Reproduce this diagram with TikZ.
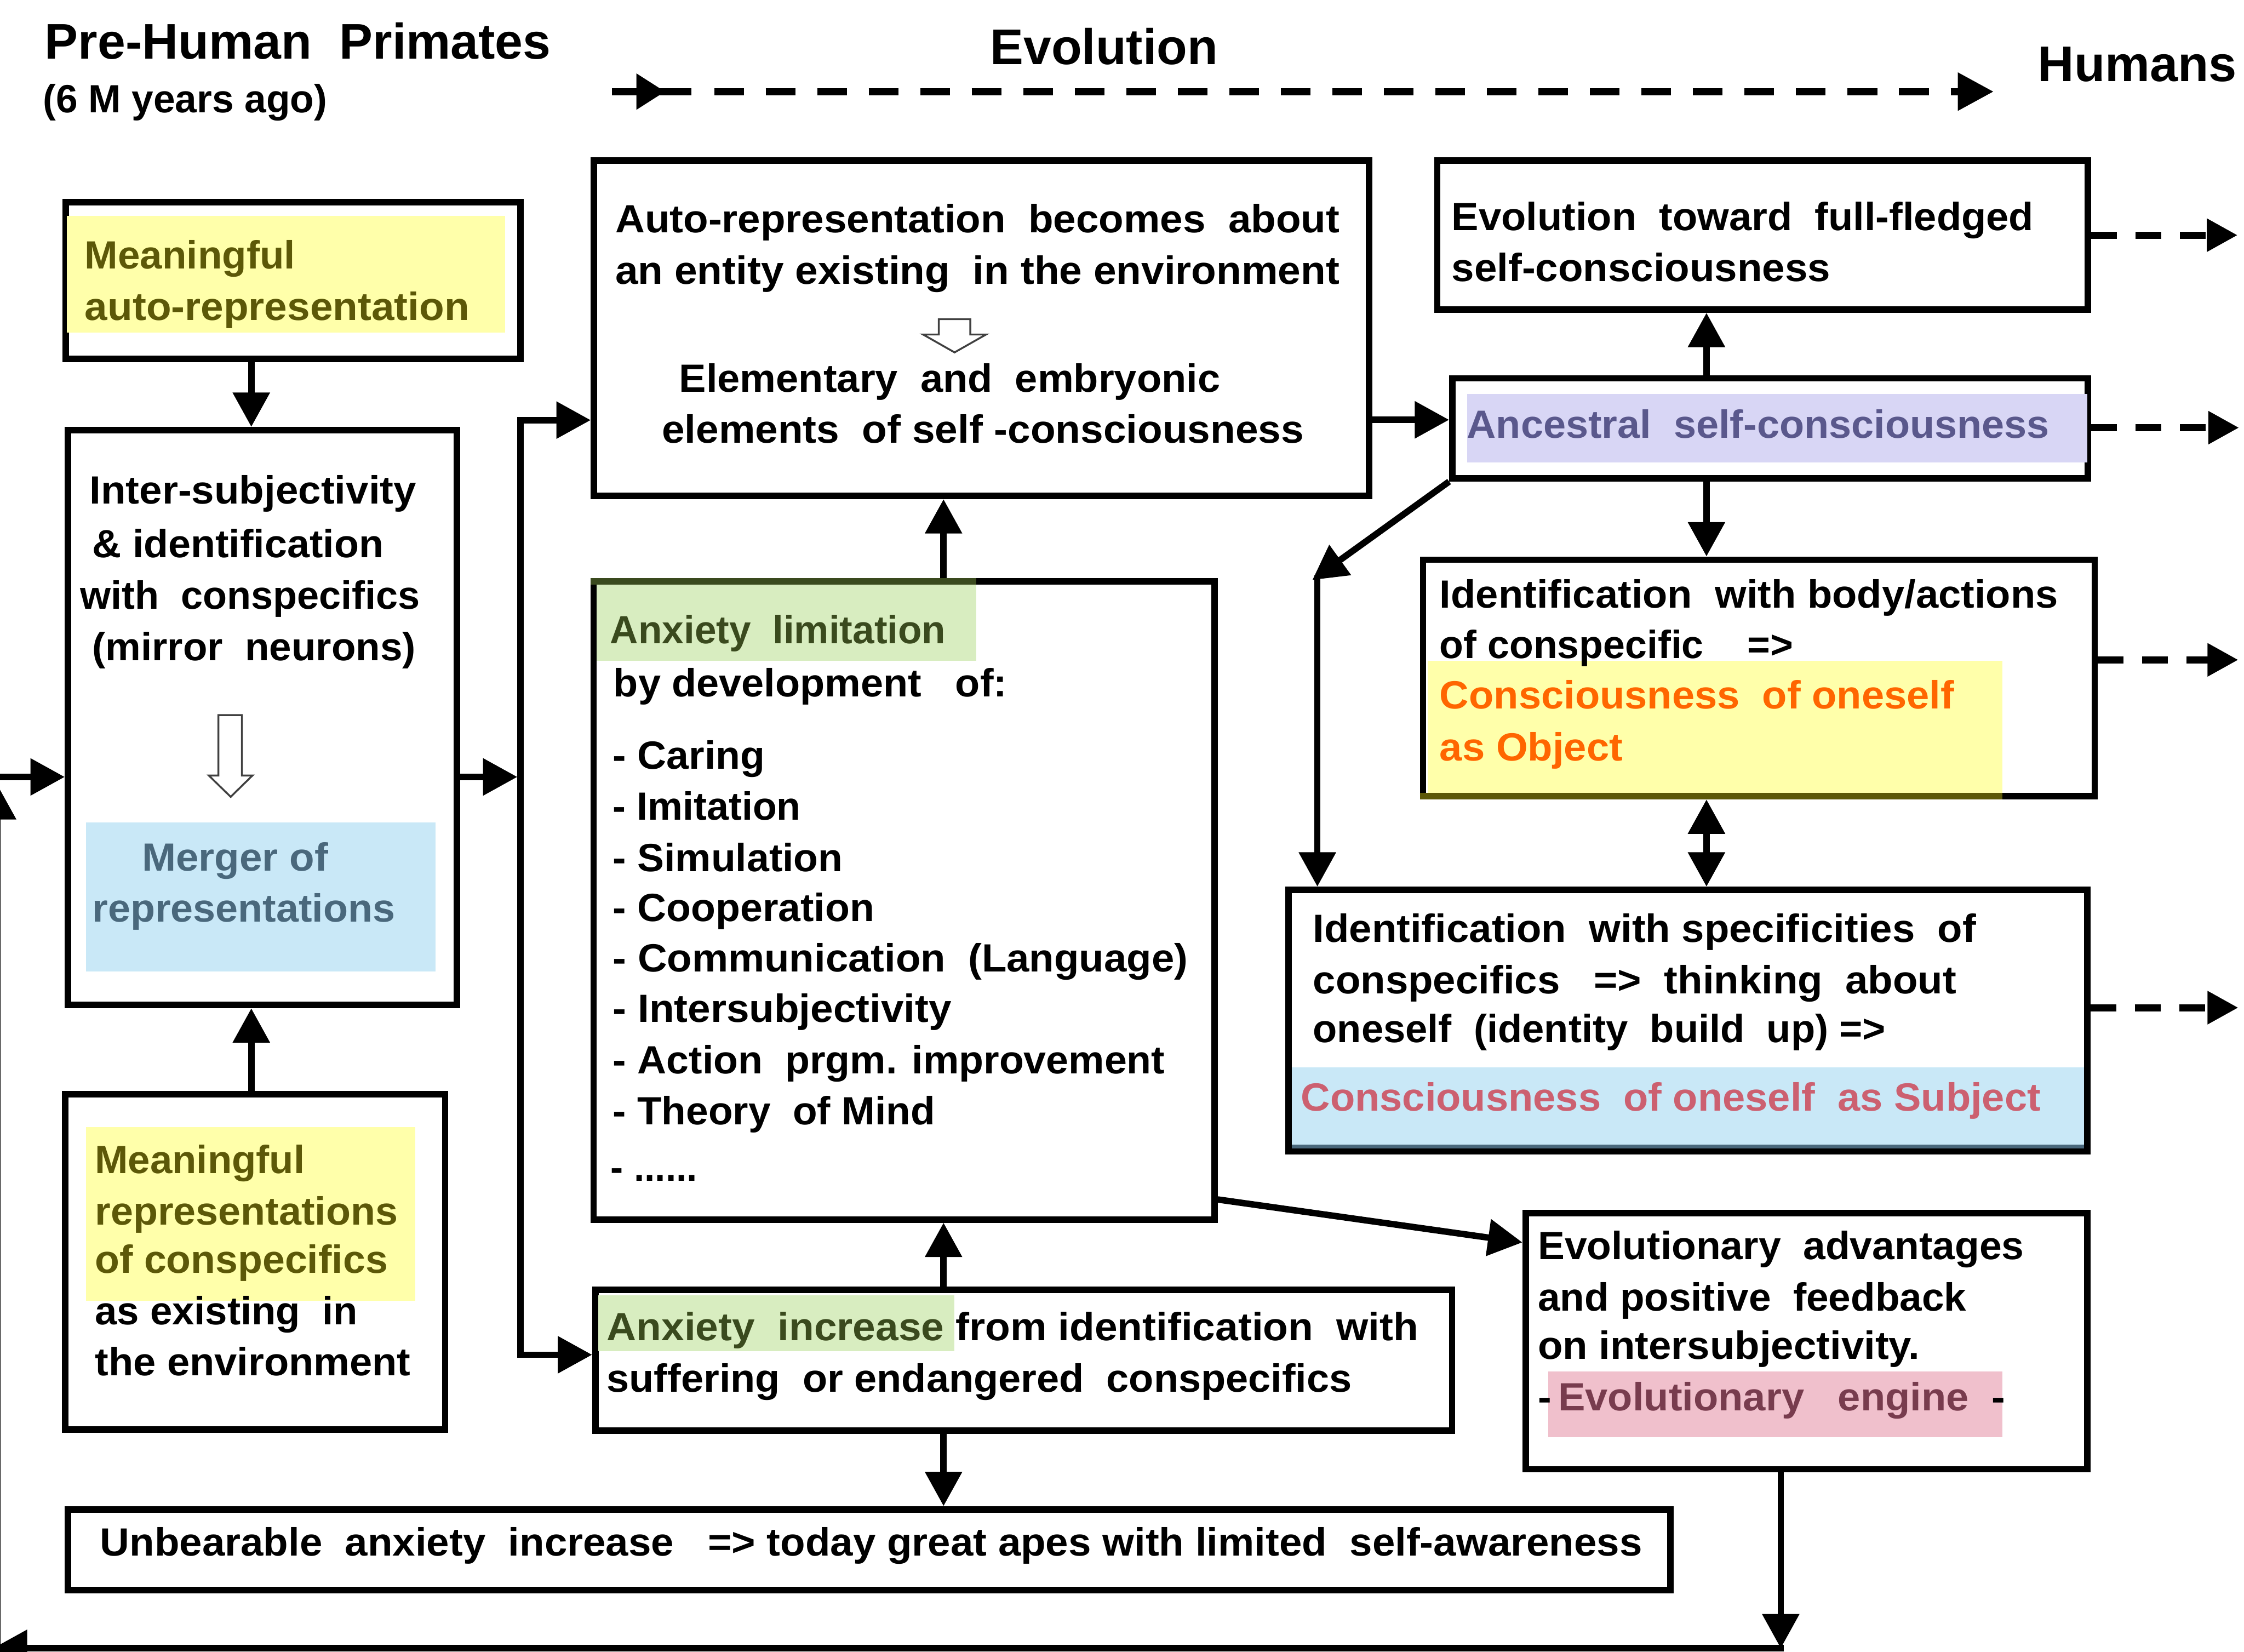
\documentclass[tikz,border=0pt]{standalone}
\usepackage{fontspec}
\setmainfont{Liberation Sans}
\usepackage{graphicx}
\usetikzlibrary{arrows.meta}
\newlength\fitnat
\newcommand\fitto[2]{\settowidth{\fitnat}{#2}\pgfmathsetmacro\fitratio{#1/\fitnat}\scalebox{\fitratio}[1]{#2}}
\definecolor{hlyellow}{RGB}{255,255,170}
\definecolor{cOlive}{RGB}{92,88,8}
\definecolor{hlblue}{RGB}{201,232,247}
\definecolor{cSlate}{RGB}{74,104,124}
\definecolor{hlgreen}{RGB}{216,237,192}
\definecolor{dkgreen}{RGB}{58,74,30}
\definecolor{hlpurple}{RGB}{216,214,245}
\definecolor{purptext}{RGB}{90,88,140}
\definecolor{orangetext}{RGB}{255,102,0}
\definecolor{pinktext}{RGB}{204,96,112}
\definecolor{hlpink}{RGB}{240,192,204}
\definecolor{cMaroon}{RGB}{120,60,78}
\begin{document}
\begin{tikzpicture}[x=1pt,y=-1pt,
  box/.style={draw, line width=4.5pt, inner sep=0pt},
  conn/.style={line width=4.5pt},
  arr/.style={conn, -{Triangle[length=24pt,width=25pt]}},
  dblarr/.style={conn, {Triangle[length=24pt,width=25pt]}-{Triangle[length=24pt,width=25pt]}},
  darr/.style={line width=5pt, dash pattern=on 18pt off 13pt, -{Triangle[length=21.5pt,width=22pt]}},
  hollow/.style={draw=black!75, line width=1.3pt, fill=white, line join=miter},
  txt/.style={anchor=base west, inner sep=0pt, outer sep=0pt, font=\fontsize{27.5}{33}\selectfont\bfseries},
  ttl/.style={txt, font=\fontsize{35}{42}\selectfont\bfseries}]
\useasboundingbox (0,0) rectangle (1568,1154);
\fill[white] (0,0) rectangle (1568,1154);

% ---------- boxes ----------
\node[box, minimum width=317.9pt, minimum height=109.4pt] (b1) at (204.75,195.9) {};
\node[box, minimum width=271.7pt, minimum height=401.7pt] (b2) at (183.35,501.35) {};
\node[box, minimum width=265.4pt, minimum height=234pt] (b3) at (178.3,881.6) {};
\node[box, minimum width=541.5pt, minimum height=234.2pt] (b4) at (685.75,229.4) {};
\node[box, minimum width=433.8pt, minimum height=445.7pt] (b5) at (631.7,629.15) {};
\node[box, minimum width=598.6pt, minimum height=98.5pt] (b6) at (715.3,950.25) {};
\node[box, minimum width=1119.8pt, minimum height=56.3pt] (b7) at (607.3,1082.65) {};
\node[box, minimum width=454.7pt, minimum height=104pt] (b8) at (1231.65,164.3) {};
\node[box, minimum width=444.2pt, minimum height=69.9pt] (b9) at (1236.9,299.25) {};
\node[box, minimum width=469.4pt, minimum height=165.3pt] (b10) at (1229,473.65) {};
\node[box, minimum width=557.9pt, minimum height=182.8pt] (b11) at (1179.45,713.1) {};
\node[box, minimum width=392.4pt, minimum height=179pt] (b12) at (1262.2,937) {};

% ---------- highlights ----------
\fill[hlyellow] (46.8,151) rectangle (353,232.4);
\fill[hlblue] (60,574.5) rectangle (304.5,678.8);
\fill[hlyellow] (60,787.5) rectangle (290,908.8);
\fill[hlgreen] (417,408.6) rectangle (682,461.8);
\draw[line width=4.5pt, dkgreen] (412.55,406.3) -- (682,406.3);
\fill[hlgreen] (418.2,905) rectangle (667,944);
\fill[hlpurple] (1025,275.3) rectangle (1458.6,323.2);
\fill[hlyellow] (997.5,461.8) rectangle (1399,554);
\draw[line width=4.5pt, cOlive] (992.05,556.3) -- (1399,556.3);
\fill[hlblue] (902.8,745.6) rectangle (1456.2,802.2);
\draw[line width=2.5pt, cSlate] (902.8,801) -- (1456.2,801);
\fill[hlpink] (1081.8,958) rectangle (1399,1004);

% ---------- hollow arrows ----------
\draw[hollow] (152.6,499.6) -- (169,499.6) -- (169,541.8) -- (176.4,541.8) -- (161.2,556.7) -- (145.9,541.8) -- (152.6,541.8) -- cycle;
\draw[hollow] (656,223) -- (678,223) -- (678,233.7) -- (689,233.7) -- (667,246.2) -- (645,233.7) -- (656,233.7) -- cycle;

% ---------- title texts ----------
\node[ttl] (title) at (31.3,41.3) {\fitto{353.7}{Pre-Human\ \ Primates}};
\node[txt] (ago) at (30,78.6) {\fitto{198.6}{(6 M years ago)}};
\node[ttl] (evo) at (692,44.8) {\fitto{159}{Evolution}};
\node[ttl] (hum) at (1424,56.7) {\fitto{139}{Humans}};

% ---------- box 1 ----------
\node[txt, text=cOlive] (t1a) at (59.3,187.9) {\fitto{147}{Meaningful}};
\node[txt, text=cOlive] (t1b) at (59.3,223.6) {\fitto{268.7}{auto-representation}};
% ---------- box 2 ----------
\node[txt] (t2a) at (62.6,352) {\fitto{228.4}{Inter-subjectivity}};
\node[txt] (t2b) at (64.5,389.4) {\fitto{203.5}{\& identification}};
\node[txt] (t2c) at (55.9,425.3) {\fitto{237.6}{with\ \ conspecifics}};
\node[txt] (t2d) at (64.5,461.5) {\fitto{226}{(mirror\ \ neurons)}};
\node[txt, text=cSlate] (t2e) at (99.2,608.5) {\fitto{130.1}{Merger of}};
\node[txt, text=cSlate] (t2f) at (64.5,643.9) {\fitto{211.7}{representations}};
% ---------- box 3 ----------
\node[txt, text=cOlive] (t3a) at (66.4,819.7) {\fitto{146.6}{Meaningful}};
\node[txt, text=cOlive] (t3b) at (66.4,855.9) {\fitto{211.6}{representations}};
\node[txt, text=cOlive] (t3c) at (66.4,889.5) {\fitto{204.6}{of conspecifics}};
\node[txt] (t3d) at (66.4,925.6) {\fitto{183.6}{as existing\ \ in}};
\node[txt] (t3e) at (66.4,961) {\fitto{220.6}{the environment}};
% ---------- box 4 ----------
\node[txt] (t4a) at (430,162.6) {\fitto{506}{Auto-representation\ \ becomes\ \ about}};
\node[txt] (t4b) at (430,198.4) {\fitto{506}{an entity existing\ \ in the environment}};
\node[txt] (t4c) at (474.6,273.8) {\fitto{378.1}{Elementary\ \ and\ \ embryonic}};
\node[txt] (t4d) at (462.5,309.5) {\fitto{448.5}{elements\ \ of self -consciousness}};
% ---------- box 5 ----------
\node[txt, text=dkgreen] (t5a) at (426.4,449.6) {\fitto{234.5}{Anxiety\ \ limitation}};
\node[txt] (t5b) at (428.7,486.7) {\fitto{275}{by development\ \ \ of:}};
\node[txt] (t5c) at (428.3,537.3) {\fitto{106.2}{- Caring}};
\node[txt] (t5d) at (428.3,572.8) {\fitto{131.3}{- Imitation}};
\node[txt] (t5e) at (428.3,608.7) {\fitto{160.7}{- Simulation}};
\node[txt] (t5f) at (428.3,643.5) {\fitto{182.7}{- Cooperation}};
\node[txt] (t5g) at (428.3,679) {\fitto{401.7}{- Communication\ \ (Language)}};
\node[txt] (t5h) at (428.3,714.3) {\fitto{236.7}{- Intersubjectivity}};
\node[txt] (t5i) at (428.3,750.3) {\fitto{385.7}{- Action\ \ prgm. improvement}};
\node[txt] (t5j) at (428.3,785.7) {\fitto{225.1}{- Theory\ \ of Mind}};
\node[txt] (t5k) at (426.8,825) {\fitto{60.5}{- ......}};
% ---------- box 6 ----------
\node[txt] (t6a) at (424,936.4) {\fitto{567}{\textcolor{dkgreen}{Anxiety\ \ increase}\ from identification\ \ with}};
\node[txt] (t6b) at (424,972.4) {\fitto{520.7}{suffering\ \ or endangered\ \ conspecifics}};
% ---------- box 7 ----------
\node[txt] (t7a) at (70,1087) {\fitto{1077.6}{Unbearable\ \ anxiety\ \ increase\ \ \ =>\ today great apes with limited\ \ self-awareness}};
% ---------- box 8 ----------
\node[txt] (t8a) at (1014.3,161) {\fitto{406.7}{Evolution\ \ toward\ \ full-fledged}};
\node[txt] (t8b) at (1014.3,196.5) {\fitto{264.7}{self-consciousness}};
% ---------- box 9 ----------
\node[txt, text=purptext] (t9a) at (1025,306) {\fitto{407}{Ancestral\ \ self-consciousness}};
% ---------- box 10 ----------
\node[txt] (t10a) at (1006,424.8) {\fitto{432}{Identification\ \ with body/actions}};
\node[txt] (t10b) at (1006,460) {\fitto{247}{of conspecific\ \ \ \ =>}};
\node[txt, text=orangetext] (t10c) at (1006,495) {\fitto{359.5}{Consciousness\ \ of oneself}};
\node[txt, text=orangetext] (t10d) at (1006,531.5) {\fitto{128}{as Object}};
% ---------- box 11 ----------
\node[txt] (t11a) at (917.5,658.3) {\fitto{463.2}{Identification\ \ with specificities\ \ of}};
\node[txt] (t11b) at (917.5,694.2) {\fitto{449.5}{conspecifics\ \ \ =>\ \ thinking\ \ about}};
\node[txt] (t11c) at (917.5,728.4) {\fitto{400.1}{oneself\ \ (identity\ \ build\ \ up) =>}};
\node[txt, text=pinktext] (t11d) at (909,776.3) {\fitto{517}{Consciousness\ \ of oneself\ \ as Subject}};
% ---------- box 12 ----------
\node[txt] (t12a) at (1074.6,879.8) {\fitto{339.7}{Evolutionary\ \ advantages}};
\node[txt] (t12b) at (1074.6,915.7) {\fitto{299.4}{and positive\ \ feedback}};
\node[txt] (t12c) at (1074.6,949.5) {\fitto{266.9}{on intersubjectivity.}};
\node[txt] (t12d) at (1074.6,985.6) {\fitto{326.4}{-\,\textcolor{cMaroon}{Evolutionary\ \ \ engine}\ \ -}};

% ---------- coordinates ----------
\coordinate (xa) at (175.6,0);
\coordinate (xc) at (659.3,0);
\coordinate (xr) at (1192.4,0);
\coordinate (xl) at (1244.3,0);
\coordinate (y293) at (0,293.3);
\coordinate (p838) at (0,838);
\coordinate (p868) at (0,868);
\coordinate (busT) at (363.8,293.5);
\coordinate (busB) at (363.8,946.5);
\coordinate (busBs) at (361.55,946.5);
\coordinate (busM) at (361.5,542.8);
\coordinate (dg) at (917,405.2);
\coordinate (dgv) at (920.5,402);
\coordinate (lpBR) at (1244.3,1151.6);
\coordinate (lpBRs) at (1246.55,1151.6);
\coordinate (lpBL) at (-5,1151.6);
\coordinate (lpLB) at (-1.7,1153.85);
\coordinate (lpLT) at (-1.7,548.5);
\coordinate (lpIn) at (-1.7,542.8);
\coordinate (d1) at (1563.5,164.3);
\coordinate (d2) at (1564.5,298.8);
\coordinate (d3) at (1564,461);
\coordinate (d4) at (1564,704);

% ---------- connectors ----------
\draw[arr] (xa |- b1.south) -- (xa |- b2.north);
\draw[arr] (xa |- b3.north) -- (xa |- b2.south);
\draw[arr] (b2.east |- busM) -- (busM);
\draw[arr, line join=miter] (busB) -- (busT) -- (busT -| b4.west);
\draw[arr] (busBs) -- (busB -| b6.west);
\draw[arr] (b4.east |- y293) -- (b9.west |- y293);
\draw[arr] (xr |- b9.north) -- (xr |- b8.south);
\draw[arr] (xr |- b9.south) -- (xr |- b10.north);
\draw[dblarr] (xr |- b10.south) -- (xr |- b11.north);
\draw[arr] (b9.south west) -- (dg);
\draw[arr] (dgv) -- (dgv |- b11.north);
\draw[arr] (xc |- b5.north) -- (xc |- b4.south);
\draw[arr] (xc |- b6.north) -- (xc |- b5.south);
\draw[arr] (xc |- b6.south) -- (xc |- b7.north);
\draw[arr] (b5.east |- p838) -- (b12.west |- p868);
\draw[arr] (xl |- b12.south) -- (lpBR);
\draw[arr] (lpBRs) -- (lpBL);
\draw[arr] (lpLB) -- (lpLT);
\draw[arr] (lpIn) -- (lpIn -| b2.west);

% ---------- dashed arrows to the right ----------
\draw[darr] (b8.east |- d1) -- (d1);
\draw[darr] (b9.east |- d2) -- (d2);
\draw[darr] (b10.east |- d3) -- (d3);
\draw[darr] (b11.east |- d4) -- (d4);

% ---------- evolution arrow ----------
\coordinate (evA) at (427.6,64);
\coordinate (evB) at (483,64);
\coordinate (evC) at (499,64);
\coordinate (evD) at (1393,64);
\draw[line width=5pt] (evA) -- (evB);
\fill (444.7,51.3) -- (464.6,64) -- (444.7,76.7) -- cycle;
\draw[line width=5pt, dash pattern=on 20.7pt off 15.3pt, -{Triangle[length=25pt,width=25.5pt]}] (evC) -- (evD);
\end{tikzpicture}
\end{document}
